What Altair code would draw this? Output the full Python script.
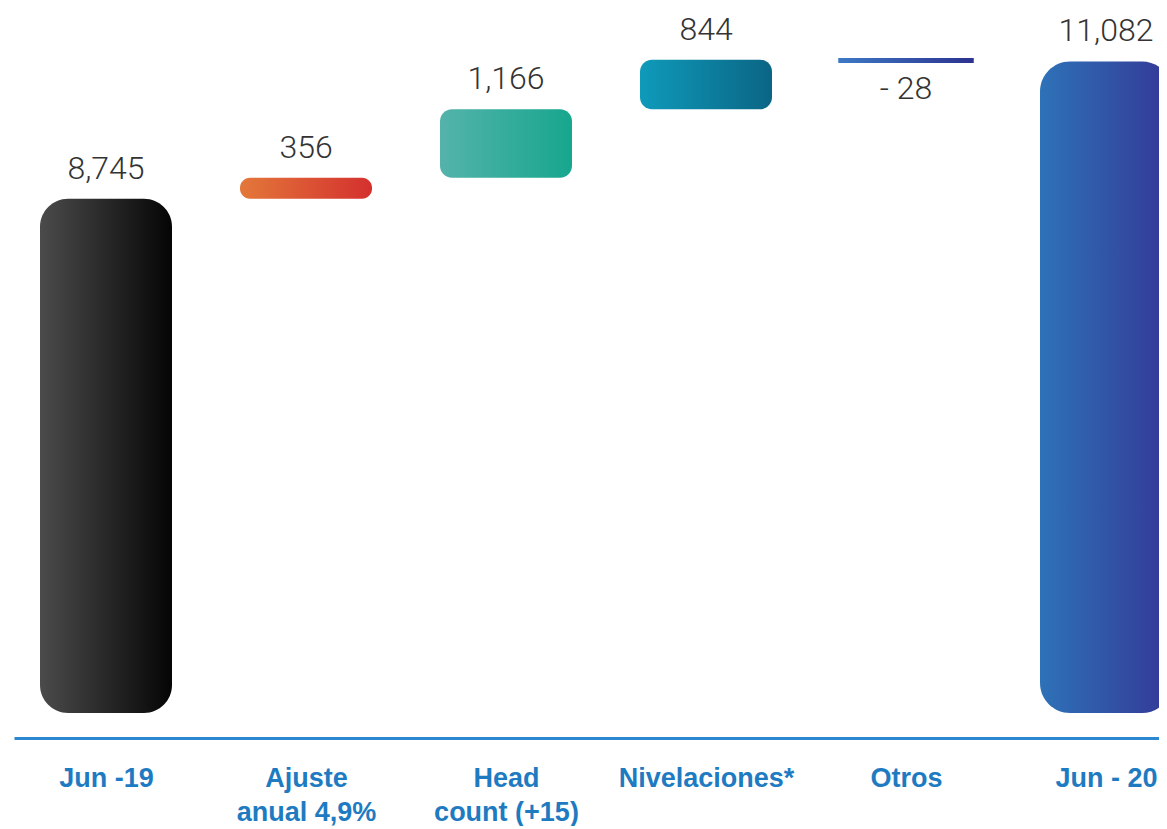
import json
import altair as alt
import pandas as pd

# ---- data ----
categories = ["Jun -19", "Ajuste anual 4,9%", "Head count (+15)", "Nivelaciones*", "Otros", "Jun - 20"]
axis_lines = [["Jun -19"], ["Ajuste", "anual 4,9%"], ["Head", "count (+15)"],
              ["Nivelaciones*"], ["Otros"], ["Jun - 20"]]
values = [8745, 356, 1166, 844, -28, 11082]
kinds = ["total", "delta", "delta", "delta", "delta", "total"]
value_labels = ["8,745", "356", "1,166", "844", "- 28", "11,082"]

# ---- styles ----
grad_stops = [
    ("#4b4b4b", "#050505"),
    ("#e3783a", "#d4302e"),
    ("#54b3ab", "#17a68e"),
    ("#0f9aba", "#0b6585"),
    ("#3d78c4", "#2c3390"),
    ("#2e72b8", "#343896"),
]
radii = [28, 10, 12, 12, 0, 30]

rows = []
running = 0
for i, (c, v, k, lab) in enumerate(zip(categories, values, kinds, value_labels)):
    if k == "total":
        start, end = 0, v
        running = v
    else:
        start, end = running, running + v
        running = end
    rows.append({"idx": i, "cat": c, "start": start, "end": end,
                 "top": max(start, end), "bottom": min(start, end),
                 "label": lab, "neg": v < 0,
                 "x0": i - 0.33, "x1": i + 0.33})
df = pd.DataFrame(rows)

PAD_L = 6
W, H = 1145, 730
x_lo = -(98 - PAD_L) / 200
xscale = alt.Scale(domain=[x_lo, x_lo + W / 200], nice=False, zero=False)
yscale = alt.Scale(domain=[-425, 11990], nice=False, zero=False)

label_expr = json.dumps(axis_lines) + "[datum.value]"

base = alt.Chart(df)

layers = []
for i in range(len(categories)):
    c0, c1 = grad_stops[i]
    grad = alt.Gradient(gradient="linear",
                        stops=[alt.GradientStop(color=c0, offset=0),
                               alt.GradientStop(color=c1, offset=1)],
                        x1=0, x2=1, y1=0, y2=0)
    mark_kwargs = dict(color=grad, clip=True)
    if radii[i] > 0:
        mark_kwargs["cornerRadius"] = radii[i]
    if values[i] < 0:
        mark_kwargs["stroke"] = grad
        mark_kwargs["strokeWidth"] = 3.5
    enc = dict(
        x=alt.X("x0:Q", scale=xscale,
                axis=alt.Axis(values=list(range(len(categories))), labelExpr=label_expr,
                              title=None, grid=False, ticks=False,
                              domainColor="#2b87cf", domainWidth=3,
                              labelFont="Liberation Sans", labelFontWeight="bold",
                              labelFontSize=27, labelColor="#1f7bc1",
                              labelAlign="center", labelBaseline="top",
                              labelPadding=27, labelLineHeight=34, labelLimit=400,
                              labelOverlap=False, labelFlush=False, labelBound=False))
        if i == 0 else alt.X("x0:Q", scale=xscale),
        x2="x1:Q",
        y=alt.Y("bottom:Q", scale=yscale, axis=None),
        y2="top:Q",
    )
    layers.append(base.transform_filter(alt.datum.idx == i).mark_bar(**mark_kwargs).encode(**enc))

txt_style = dict(font="Roboto", fontWeight=300, fontSize=32, color="#333333", align="center")
pos_text = base.transform_filter("!datum.neg").mark_text(baseline="alphabetic", dy=-20, **txt_style).encode(
    x=alt.X("idx:Q", scale=xscale),
    y=alt.Y("top:Q", scale=yscale),
    text="label:N",
)
neg_text = base.transform_filter("datum.neg").mark_text(baseline="alphabetic", dy=38, **txt_style).encode(
    x=alt.X("idx:Q", scale=xscale),
    y=alt.Y("bottom:Q", scale=yscale),
    text="label:N",
)

chart = alt.layer(*layers, pos_text, neg_text).properties(
    width=W, height=H,
    background="white",
    autosize=alt.AutoSizeParams(type="none"),
    padding={"left": PAD_L, "top": 0, "right": 0, "bottom": 88},
).configure_view(stroke="transparent", strokeWidth=0)

chart.save("out.html", embed_options={"renderer": "svg", "actions": False})
